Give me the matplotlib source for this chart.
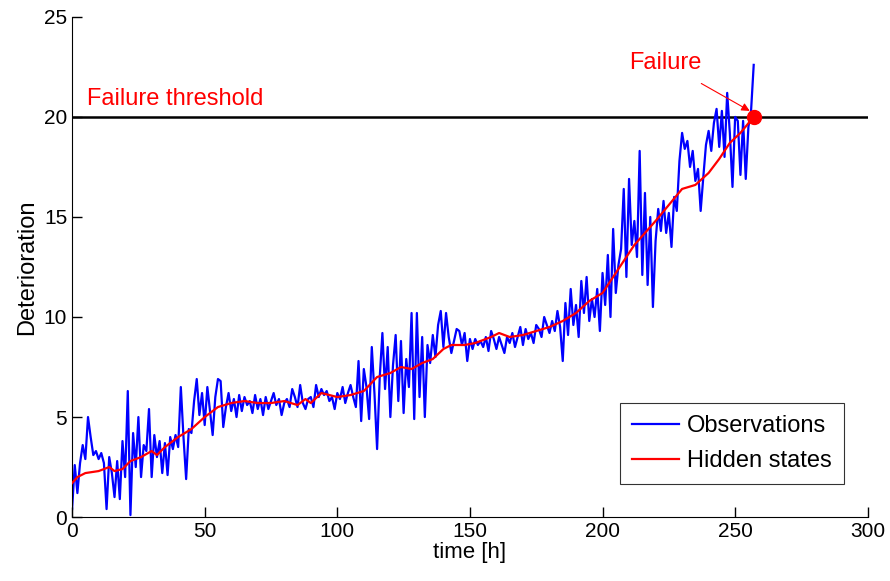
import numpy as np
import matplotlib
matplotlib.use("Agg")
import matplotlib.pyplot as plt

plt.rcParams['font.family'] = ['Liberation Sans', 'DejaVu Sans']

# Observations, one per hour (t = 0 .. 257)
obs = [
    0.4, 2.6, 1.2, 2.7, 3.6, 2.9, 5.0, 4.0, 3.1, 3.3,
    2.9, 3.2, 2.7, 0.4, 3.0, 2.2, 1.0, 2.8, 0.9, 3.8,
    2.0, 6.3, 0.1, 4.2, 2.5, 5.0, 2.0, 3.6, 3.3, 5.4,
    2.0, 4.1, 3.0, 3.8, 2.2, 3.7, 2.1, 4.0, 3.4, 4.1,
    3.5, 6.5, 4.0, 1.9, 4.4, 4.2, 5.8, 6.9, 5.1, 6.2,
    4.6, 6.5, 5.3, 4.1, 6.0, 6.9, 6.8, 4.5, 5.5, 6.2,
    5.3, 5.9, 5.0, 6.1, 5.3, 6.0, 5.6, 5.8, 5.2, 6.1,
    5.4, 5.9, 5.1, 6.0, 5.4, 5.8, 6.2, 5.6, 5.9, 5.1,
    5.7, 5.9, 5.5, 6.4, 6.0, 5.5, 6.6, 5.7, 5.4, 5.9,
    6.0, 5.5, 6.6, 6.0, 6.4, 6.1, 6.3, 5.8, 6.0, 5.4,
    6.2, 5.9, 6.5, 5.7, 6.2, 6.6, 6.0, 5.5, 7.8, 4.8,
    7.4, 6.5, 4.9, 8.5, 6.2, 3.4, 7.0, 9.2, 6.4, 8.5,
    5.0, 7.6, 9.1, 5.8, 8.8, 5.2, 7.9, 6.5, 10.2, 4.9,
    10.2, 6.0, 9.0, 5.0, 8.6, 7.7, 9.1, 8.0, 9.6, 10.3,
    8.5, 10.2, 9.0, 8.2, 8.8, 9.4, 9.3, 8.6, 9.2, 7.8,
    8.9, 8.4, 8.9, 8.6, 8.8, 8.5, 9.0, 8.3, 9.3, 8.9,
    8.4, 9.0, 8.6, 8.2, 9.0, 8.7, 9.2, 8.5, 9.0, 9.5,
    8.6, 9.4, 8.9, 9.2, 8.7, 9.6, 9.4, 9.0, 10.0, 9.6,
    9.2, 9.8, 9.3, 10.3, 9.5, 7.8, 10.7, 9.1, 11.4, 9.6,
    10.6, 9.0, 11.8, 10.2, 12.0, 9.8, 10.9, 10.0, 11.4, 9.3,
    12.2, 10.6, 13.1, 10.0, 14.4, 11.2, 12.6, 13.4, 16.4, 12.0,
    16.9, 13.6, 14.8, 13.0, 18.3, 12.1, 16.2, 11.6, 15.0, 10.5,
    13.8, 15.4, 14.3, 15.8, 14.2, 15.2, 13.5, 16.0, 15.3, 17.8,
    19.2, 18.4, 18.8, 17.5, 18.3, 16.8, 17.4, 15.3, 17.0, 18.6,
    19.3, 18.3, 19.7, 20.4, 18.5, 20.3, 18.0, 21.2, 19.2, 16.5,
    20.0, 19.8, 17.1, 19.8, 16.9, 19.5, 20.3, 22.6,
]
obs_t = list(range(len(obs)))

# Hidden states (read at key times)
hid_t = [0, 2, 5, 10, 14, 16, 19, 22, 26, 30, 32, 35, 40, 45, 50, 55, 60, 65,
         70, 75, 80, 85, 88, 90, 94, 100, 105, 110, 115, 120, 124, 128, 132,
         136, 140, 143, 148, 152, 158, 161, 165, 170, 175, 180, 185, 190, 195,
         200, 205, 208, 212, 216, 220, 225, 230, 235, 240, 244, 248, 252, 257]
hid_v = [1.7, 2.0, 2.2, 2.3, 2.5, 2.3, 2.4, 2.8, 3.0, 3.3, 3.1, 3.5, 4.0, 4.4,
         5.0, 5.5, 5.7, 5.8, 5.7, 5.7, 5.8, 5.6, 5.9, 5.7, 6.2, 6.0, 6.1, 6.3,
         7.0, 7.2, 7.5, 7.4, 7.7, 7.9, 8.4, 8.6, 8.6, 8.7, 9.0, 9.2, 9.0, 9.1,
         9.3, 9.5, 9.8, 10.2, 10.8, 11.2, 12.2, 12.8, 13.6, 14.2, 14.8, 15.6,
         16.4, 16.6, 17.2, 17.9, 18.7, 19.2, 20.0]

threshold = 20
failure_t = 257
failure_v = 20

x_ticks = [0, 50, 100, 150, 200, 250, 300]
y_ticks = [0, 5, 10, 15, 20, 25]

fig = plt.figure(figsize=(8.9, 5.81), dpi=100)
ax = fig.add_axes([0.081, 0.110, 0.894, 0.861])

ax.plot(obs_t, obs, color='#0000ff', lw=1.6, label='Observations', zorder=2)
ax.plot(hid_t, hid_v, color='#ff0000', lw=1.6, label='Hidden states', zorder=3)
ax.axhline(threshold, color='black', lw=1.8, zorder=1)
ax.plot([failure_t], [failure_v], 'o', color='#ff0000', ms=10, zorder=4)

ax.text(5.5, 20.9, 'Failure threshold', color='#ff0000', fontsize=17,
        va='center', ha='left')
ax.annotate('Failure', xy=(failure_t - 1.5, failure_v + 0.3),
            xytext=(223.5, 22.7), color='#ff0000', fontsize=17,
            ha='center', va='center',
            arrowprops=dict(arrowstyle='-|>', color='#ff0000', lw=0.8,
                            shrinkA=10, shrinkB=0, mutation_scale=12))

ax.set_xlim(0, 300)
ax.set_ylim(0, 25)
ax.set_xticks(x_ticks)
ax.set_yticks(y_ticks)
ax.tick_params(direction='in', length=7, labelsize=15, width=1)
ax.spines['top'].set_visible(False)
ax.spines['right'].set_visible(False)
ax.set_xlabel('time [h]', fontsize=16, labelpad=1)
ax.set_ylabel('Deterioration', fontsize=17, labelpad=4)

leg = ax.legend(loc='lower right', bbox_to_anchor=(0.97, 0.066), fontsize=17,
                frameon=True, fancybox=False, edgecolor='black',
                handlelength=2.0, borderpad=0.5, labelspacing=0.55,
                handletextpad=0.35, borderaxespad=0.0)
leg.get_frame().set_linewidth(0.8)

fig.savefig('out.png', dpi=100)
